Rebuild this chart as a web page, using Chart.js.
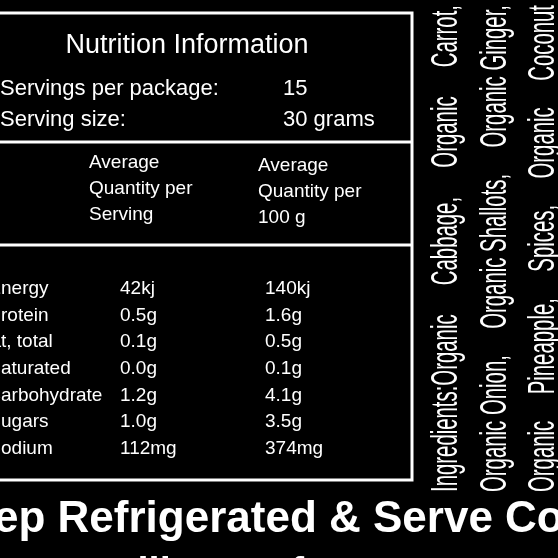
<!DOCTYPE html>
<html><head><meta charset="utf-8">
<script src="https://cdn.jsdelivr.net/npm/chart.js@4/dist/chart.umd.min.js"></script>
<style>html,body{margin:0;padding:0;background:#000;}#wrap{width:558px;height:558px;}</style>
</head><body><div id="wrap"><canvas id="c" width="558" height="558"></canvas></div>
<script>
const title = "Nutrition Information";
const servingLabels = ["Servings per package:", "Serving size:"];
const servingValues = ["15", "30 grams"];
const headers = [["Average","Quantity per","Serving"],["Average","Quantity per","100 g"]];
const nutrients = ["Energy","Protein","Fat, total","Saturated","Carbohydrate","Sugars","Sodium"];
const hiddenChars = [1,1,2,1,1,1,1];
const perServing = ["42kj","0.5g","0.1g","0.0g","1.2g","1.0g","112mg"];
const per100g = ["140kj","1.6g","0.5g","0.1g","4.1g","3.5g","374mg"];
const ingredientCols = [
  ["Ingredients:Organic","Cabbage,","Organic","Carrot,"],
  ["Organic Onion,","Organic Shallots,","Organic Ginger,"],
  ["Organic","Pineapple,","Spices,","Organic","Coconut"]
];
const footer = "ep Refrigerated & Serve Co";

const F = "'Liberation Sans', Arial, sans-serif";
const labelPlugin = {
  id:'label',
  afterDraw(chart){
    const ctx = chart.ctx;
    ctx.save();
    ctx.fillStyle='#000'; ctx.fillRect(0,0,558,558);
    ctx.strokeStyle='#fff'; ctx.lineWidth=3;
    ctx.strokeRect(-10,13,422,467);
    ctx.beginPath(); ctx.moveTo(-10,142); ctx.lineTo(412,142);
    ctx.moveTo(-10,245); ctx.lineTo(412,245); ctx.stroke();
    ctx.fillStyle='#fff'; ctx.textBaseline='middle';
    ctx.font="27px "+F; ctx.textAlign='center';
    ctx.fillText(title,187,46);
    ctx.textAlign='left'; ctx.font="22px "+F;
    servingLabels.forEach((l,i)=>{ctx.fillText(l,0,89+i*31);ctx.fillText(servingValues[i],283,89+i*31);});
    ctx.font="19px "+F;
    headers[0].forEach((h,i)=>ctx.fillText(h,89,163+i*26));
    headers[1].forEach((h,i)=>ctx.fillText(h,258,166+i*26));
    nutrients.forEach((n,i)=>{
      const y=289+i*26.6;
      const off=ctx.measureText(n.slice(0,hiddenChars[i])).width;
      ctx.fillText(n,-off+1,y);
      ctx.fillText(perServing[i],120,y);
      ctx.fillText(per100g[i],265,y);
    });
    ctx.font="bold 44px "+F;
    ctx.fillText(footer,-6,520);
    ctx.font="bold 40px "+F; ctx.fillText("Will Keep for Upto 3 Months",100,575);
    const xs=[447,496,544];
    ctx.font="37px "+F;
    ingredientCols.forEach((words,ci)=>{
      ctx.save(); ctx.translate(xs[ci],492); ctx.rotate(-Math.PI/2);
      const sx=0.55; ctx.scale(sx,1);
      const total=(492-5)/sx;
      const ws=words.map(w=>ctx.measureText(w).width);
      const sum=ws.reduce((a,b)=>a+b,0);
      const gap=(total-sum)/(words.length-1);
      let x=0; words.forEach((w,i)=>{ctx.fillText(w,x,0);x+=ws[i]+gap;});
      ctx.restore();
    });
    ctx.restore();
  }
};
new Chart(document.getElementById('c'),{
  type:'bar',
  data:{labels:nutrients,datasets:[{data:per100g.map(v=>0),backgroundColor:'#000'}]},
  options:{responsive:false,animation:false,plugins:{legend:{display:false},tooltip:{enabled:false}},
    scales:{x:{display:false},y:{display:false}},layout:{padding:0}},
  plugins:[labelPlugin]
});
</script></body></html>
